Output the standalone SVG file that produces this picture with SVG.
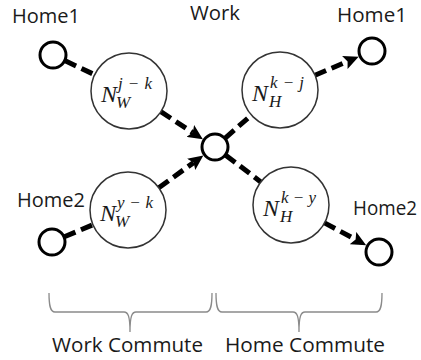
<svg xmlns="http://www.w3.org/2000/svg" width="421" height="360" viewBox="0 0 421 360">
<style>
.lbl{font-family:"Open Sans","Liberation Sans",sans-serif;font-size:20px;fill:#1a1a1a}
.small{fill:#fff;stroke:#000;stroke-width:3}
.big{fill:#fff;stroke:#333;stroke-width:1.5}
.m{font-family:"Liberation Serif","DejaVu Serif",serif;font-style:italic;fill:#1a1a1a}
.mN{font-size:24px}
.ms{font-size:17px}
.c{fill:none;stroke:#000;stroke-width:5;stroke-dasharray:12 6}
.br{fill:none;stroke:#8a8a8a;stroke-width:1.3}
</style>
<defs>
<marker id="ah" viewBox="0 0 15 14" refX="3" refY="7" markerWidth="15" markerHeight="14" markerUnits="userSpaceOnUse" orient="auto">
<path d="M0,0 L15,7 L0,14 L3,7 z" fill="#000"/>
</marker>
</defs>
<g id="connectors">
<line class="c" x1="65.2" y1="60.8" x2="94.6" y2="74.7"/>
<line class="c" x1="160.8" y1="111.7" x2="192.8" y2="132.6" marker-end="url(#ah)"/>
<line class="c" x1="64.4" y1="236.8" x2="93" y2="224.7"/>
<line class="c" x1="158.8" y1="187.7" x2="193.6" y2="162.6" marker-end="url(#ah)"/>
<line class="c" x1="225.2" y1="138.1" x2="251.4" y2="115"/>
<line class="c" x1="315" y1="75.2" x2="347.6" y2="61.4" marker-end="url(#ah)"/>
<line class="c" x1="225.7" y1="155.2" x2="260.8" y2="181.9"/>
<line class="c" x1="324.5" y1="222.9" x2="355.6" y2="239.5" marker-end="url(#ah)"/>
</g>
<g id="home1-left"><circle class="small" cx="53" cy="55" r="13"/><text class="lbl" x="12" y="23" textLength="68" lengthAdjust="spacingAndGlyphs">Home1</text></g>
<g id="work"><circle class="small" cx="215" cy="147" r="13"/><text class="lbl" x="190" y="20" textLength="50" lengthAdjust="spacingAndGlyphs">Work</text></g>
<g id="home2-left"><circle class="small" cx="52" cy="242" r="13"/><text class="lbl" x="17" y="207" textLength="68" lengthAdjust="spacingAndGlyphs">Home2</text></g>
<g id="home1-right"><circle class="small" cx="372" cy="51" r="13"/><text class="lbl" x="337" y="22" textLength="70" lengthAdjust="spacingAndGlyphs">Home1</text></g>
<g id="home2-right"><circle class="small" cx="379" cy="252" r="13"/><text class="lbl" x="353" y="215" textLength="64" lengthAdjust="spacingAndGlyphs">Home2</text></g>
<g id="nw-jk"><circle class="big" cx="129" cy="91" r="38"/>
<text class="m mN" x="101" y="102">N</text><text class="m ms" x="118" y="89" textLength="34" lengthAdjust="spacing">j−k</text><text class="m ms" x="116" y="108">W</text></g>
<g id="nw-yk"><circle class="big" cx="128" cy="210" r="38"/>
<text class="m mN" x="100" y="221">N</text><text class="m ms" x="117" y="208" textLength="36" lengthAdjust="spacing">y−k</text><text class="m ms" x="115" y="227">W</text></g>
<g id="nh-kj"><circle class="big" cx="280" cy="90" r="38"/>
<text class="m mN" x="252" y="101">N</text><text class="m ms" x="270" y="88" textLength="34" lengthAdjust="spacing">k−j</text><text class="m ms" x="269" y="107">H</text></g>
<g id="nh-ky"><circle class="big" cx="291" cy="205" r="38"/>
<text class="m mN" x="263" y="216">N</text><text class="m ms" x="281" y="203" textLength="35" lengthAdjust="spacing">k−y</text><text class="m ms" x="280" y="222">H</text></g>
<g id="work-commute">
<path class="br" d="M49,293 C49,305 50,312 55,312 L124,312 C128,312 130,316 130,332 C130,316 132,312 136,312 L206,312 C211,312 212,305 212,293"/>
<text class="lbl" x="52" y="352" textLength="151" lengthAdjust="spacingAndGlyphs">Work Commute</text></g>
<g id="home-commute">
<path class="br" d="M216,293 C216,305 217,312 222,312 L293,312 C297,312 299,316 299,332 C299,316 301,312 305,312 L376,312 C381,312 382,305 382,293"/>
<text class="lbl" x="225" y="352" textLength="160" lengthAdjust="spacingAndGlyphs">Home Commute</text></g>
</svg>
